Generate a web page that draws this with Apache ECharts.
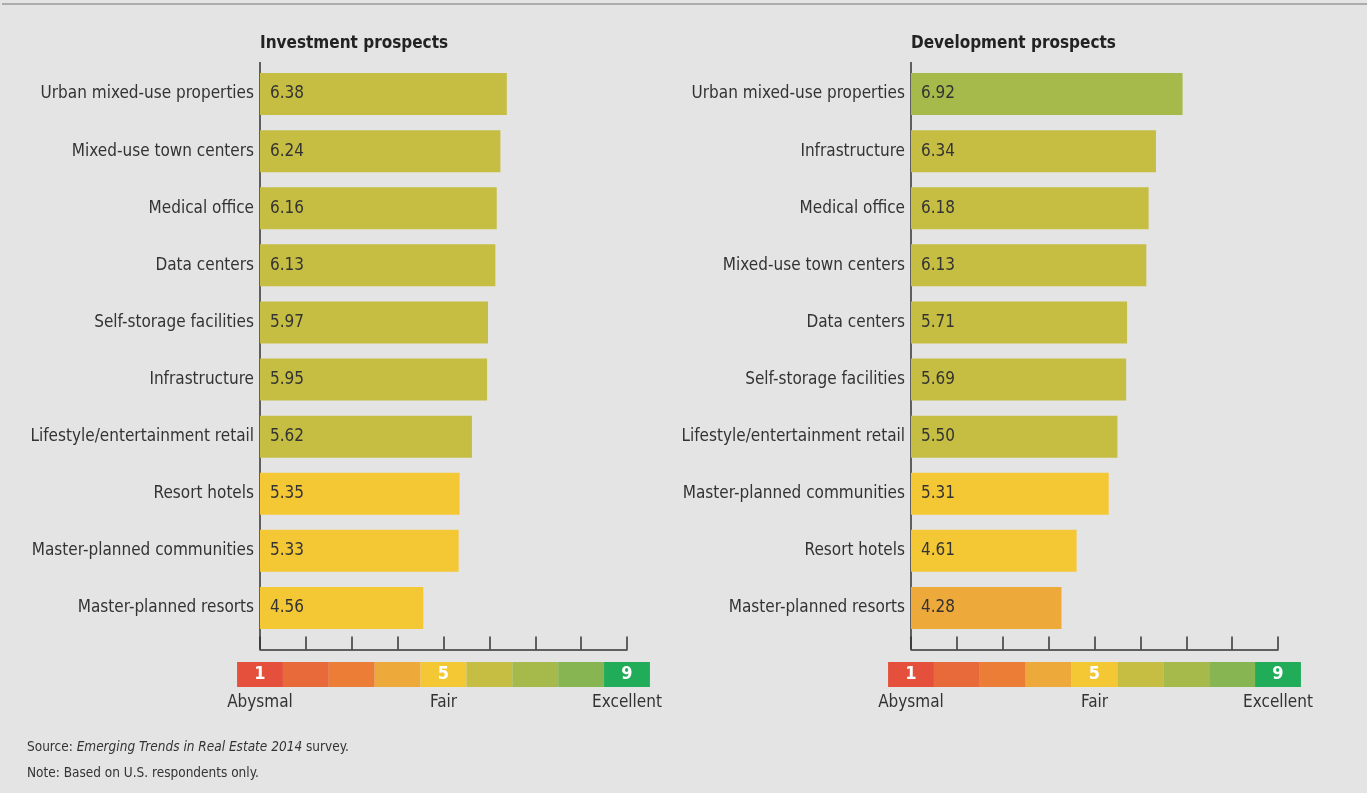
<!DOCTYPE html>
<html>
<head>
<meta charset="utf-8">
<script src="https://cdn.jsdelivr.net/npm/echarts@6/dist/echarts.min.js"></script>
<style>
  html, body { margin: 0; padding: 0; background: #e4e4e4; }
  #main { width: 1367px; height: 793px; }
</style>
</head>
<body>
<div id="main"></div>
<script>
const investCategories = ['Urban mixed-use properties', 'Mixed-use town centers', 'Medical office', 'Data centers', 'Self-storage facilities', 'Infrastructure', 'Lifestyle/entertainment retail', 'Resort hotels', 'Master-planned communities', 'Master-planned resorts']
const investValues = [6.38, 6.24, 6.16, 6.13, 5.97, 5.95, 5.62, 5.35, 5.33, 4.56]

const devCategories = ['Urban mixed-use properties', 'Infrastructure', 'Medical office', 'Mixed-use town centers', 'Data centers', 'Self-storage facilities', 'Lifestyle/entertainment retail', 'Master-planned communities', 'Resort hotels', 'Master-planned resorts']
const devValues = [6.92, 6.34, 6.18, 6.13, 5.71, 5.69, 5.50, 5.31, 4.61, 4.28]

const scaleSteps = ['1', '2', '3', '4', '5', '6', '7', '8', '9']
const scaleColors = ['#e4503c', '#e8693a', '#eb7d37', '#eda93a', '#f4c835', '#c6be43', '#a5ba4a', '#86b551', '#20ac58']
const scaleNames = ['Abysmal', '', '', '', 'Fair', '', '', '', 'Excellent']
const shownSteps = ['1', '5', '9']

const FONT = '"DejaVu Sans Condensed", "Liberation Sans Narrow", sans-serif'
const TEXT = '#333333'

// layout of the two panels
const panels = [
  { left: 260, title: 'Investment prospects', cats: investCategories, vals: investValues },
  { left: 911, title: 'Development prospects', cats: devCategories, vals: devValues }
]
const plotW = 367
const plotTop = 65.5
const plotH = 571
const tickLen = 13
const cellW = plotW / 8

function colorFor(v) {
  return scaleColors[Math.round(v) - 1]
}

const chart = echarts.init(document.getElementById('main'))

const grid = []
const xAxis = []
const yAxis = []
const series = []
const title = []
const graphic = [
  { type: 'line', shape: { x1: 2, y1: 4, x2: 1367, y2: 4 }, style: { stroke: '#9a9a9a', lineWidth: 1.5 } }
]

panels.forEach((p, i) => {
  // bar panel
  grid.push({ left: p.left, top: plotTop, width: plotW, height: plotH })
  xAxis.push({
    gridIndex: i * 2,
    type: 'value',
    min: 1,
    max: 9,
    interval: 1,
    offset: tickLen,
    axisLine: { show: true, lineStyle: { color: TEXT, width: 1.5 } },
    axisTick: { show: true, inside: true, length: tickLen, lineStyle: { color: TEXT, width: 1.5 } },
    axisLabel: { show: false },
    splitLine: { show: false }
  })
  yAxis.push({
    gridIndex: i * 2,
    type: 'category',
    inverse: true,
    data: p.cats,
    axisLine: { show: false },
    axisTick: { show: false },
    axisLabel: { margin: 6, color: TEXT, fontSize: 17, fontFamily: FONT }
  })
  series.push({
    type: 'bar',
    xAxisIndex: i * 2,
    yAxisIndex: i * 2,
    barWidth: 42,
    data: p.vals.map(v => ({ value: v, itemStyle: { color: colorFor(v) } })),
    label: {
      show: true,
      position: 'insideLeft',
      distance: 10,
      color: TEXT,
      fontSize: 17,
      fontFamily: FONT,
      formatter: d => d.value.toFixed(2)
    }
  })

  // colour scale under the panel
  grid.push({ left: p.left - cellW / 2, top: 662, width: cellW * 9, height: 25 })
  xAxis.push({
    gridIndex: i * 2 + 1,
    type: 'category',
    data: scaleSteps,
    axisLine: { show: false },
    axisTick: { show: false },
    axisLabel: {
      interval: 0,
      margin: 7,
      color: TEXT,
      fontSize: 17,
      fontFamily: FONT,
      formatter: (val, idx) => scaleNames[idx]
    }
  })
  yAxis.push({ gridIndex: i * 2 + 1, type: 'value', min: 0, max: 1, show: false })
  series.push({
    type: 'bar',
    xAxisIndex: i * 2 + 1,
    yAxisIndex: i * 2 + 1,
    barCategoryGap: 0,
    silent: true,
    data: scaleSteps.map((s, k) => ({ value: 1, name: s, itemStyle: { color: scaleColors[k] } })),
    label: {
      show: true,
      position: 'inside',
      color: '#ffffff',
      fontSize: 18,
      fontWeight: 'bold',
      fontFamily: FONT,
      formatter: d => (shownSteps.includes(d.name) ? d.name : '')
    }
  })

  title.push({
    text: p.title,
    left: p.left,
    top: 35,
    padding: 0,
    textStyle: { color: '#222222', fontSize: 17, fontWeight: 'bold', fontFamily: FONT }
  })

  // vertical axis line runs past the plot area down to the tick axis
  graphic.push({
    type: 'line',
    shape: { x1: p.left, y1: plotTop - 3.5, x2: p.left, y2: plotTop + plotH + tickLen },
    style: { stroke: TEXT, lineWidth: 1.5 }
  })
})

title.push({
  left: 27,
  top: 734,
  padding: 0,
  text: 'Source: {i|Emerging Trends in Real Estate 2014} survey.\nNote: Based on U.S. respondents only.',
  textStyle: {
    color: TEXT,
    fontSize: 13.5,
    fontWeight: 'normal',
    fontFamily: FONT,
    lineHeight: 26,
    rich: {
      i: { fontStyle: 'italic', fontSize: 13.5, fontFamily: FONT, color: TEXT, lineHeight: 26 }
    }
  }
})

const option = {
  backgroundColor: '#e4e4e4',
  animation: false,
  title,
  grid,
  xAxis,
  yAxis,
  series,
  graphic
}
option && chart.setOption(option)
</script>
</body>
</html>
